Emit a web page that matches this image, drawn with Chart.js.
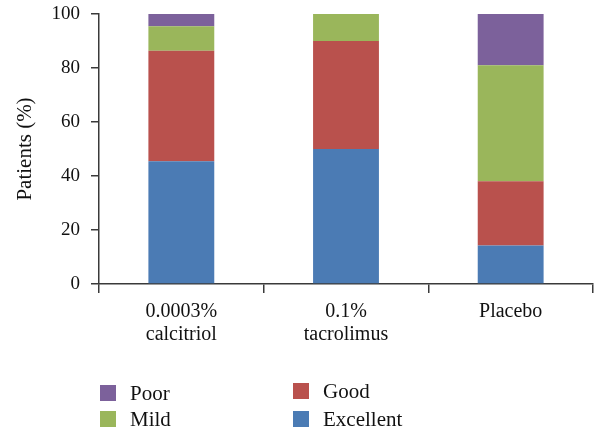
<!DOCTYPE html>
<html>
<head>
<meta charset="utf-8">
<script src="https://cdn.jsdelivr.net/npm/chart.js@4.4.1/dist/chart.umd.min.js"></script>
<style>
    html, body { margin: 0; padding: 0; background: #fff; }
    #wrap { position: relative; width: 594px; height: 433px; }
    #legend { position: absolute; left: 100px; top: 383px; font-family: "Liberation Serif", serif; font-size: 21px; color: #111; }
    .item { position: absolute; white-space: nowrap; line-height: 20px; }
    .box { position: absolute; left: 0; top: 2px; width: 16px; height: 16px; }
    .lbl { position: absolute; left: 30px; top: 0; }
</style>
</head>
<body>
<div id="wrap">
    <canvas id="chart" width="594" height="433"></canvas>
    <div id="legend"></div>
</div>
<script>
// 資料
const categories = [['0.0003%', 'calcitriol'], ['0.1%', 'tacrolimus'], 'Placebo'];
const excellent = [45.5, 50.0, 14.3];
const good = [40.9, 40.0, 23.8];
const mild = [9.1, 10.0, 42.9];
const poor = [4.5, 0, 19.0];
const yTicks = [0, 20, 40, 60, 80, 100];

const seriesNames = ['Excellent', 'Good', 'Mild', 'Poor'];
const seriesColors = ['#4b7bb4', '#b9514d', '#9ab65b', '#7c619b'];
const seriesData = [excellent, good, mild, poor];

const axisColor = '#3a3a3a';
const serifFamily = '"Liberation Serif", serif';

const datasets = seriesNames.map((name, i) => ({
    label: name,
    data: seriesData[i],
    backgroundColor: seriesColors[i],
    borderWidth: 0,
    barPercentage: 0.4,
    categoryPercentage: 1.0
}));

new Chart(document.getElementById('chart'), {
    type: 'bar',
    data: { labels: categories, datasets: datasets },
    options: {
        responsive: false,
        animation: false,
        layout: { padding: { top: 14, right: 1, left: 0, bottom: 0 } },
        plugins: { legend: { display: false }, tooltip: { enabled: false } },
        scales: {
            x: {
                stacked: true,
                afterFit: (scale) => { scale.height = 149; },
                border: { display: true, color: axisColor, width: 1.5 },
                grid: { drawOnChartArea: false, drawTicks: true, tickLength: 9, color: axisColor, lineWidth: 1.5, offset: true },
                ticks: { font: { family: serifFamily, size: 20, lineHeight: 1.15 }, color: '#111', padding: 7, maxRotation: 0 }
            },
            y: {
                stacked: true,
                min: 0,
                max: 100,
                afterFit: (scale) => {
                    scale.width = 99;
                    scale.paddingTop = 0;
                    scale.paddingBottom = 0;
                },
                afterBuildTicks: (scale) => { scale.ticks = yTicks.map(v => ({ value: v })); },
                border: { display: true, color: axisColor, width: 1.5 },
                grid: { drawOnChartArea: false, drawTicks: true, tickLength: 8, color: axisColor, lineWidth: 1.5 },
                ticks: { font: { family: serifFamily, size: 19 }, color: '#111', padding: 11 },
                title: { display: true, text: 'Patients (%)', font: { family: serifFamily, size: 21 }, color: '#111', padding: { top: 13, bottom: 0 } }
            }
        }
    }
});

// 圖例（兩欄：Poor / Good，Mild / Excellent）
const legendOrder = [
    { idx: 3, x: 0, y: 0 },
    { idx: 1, x: 193, y: -2 },
    { idx: 2, x: 0, y: 26 },
    { idx: 0, x: 193, y: 26 }
];
const legendEl = document.getElementById('legend');
legendOrder.forEach(o => {
    const item = document.createElement('div');
    item.className = 'item';
    item.style.left = o.x + 'px';
    item.style.top = o.y + 'px';
    item.innerHTML = `<span class="box" style="background:${seriesColors[o.idx]}"></span><span class="lbl">${seriesNames[o.idx]}</span>`;
    legendEl.appendChild(item);
});
</script>
</body>
</html>
